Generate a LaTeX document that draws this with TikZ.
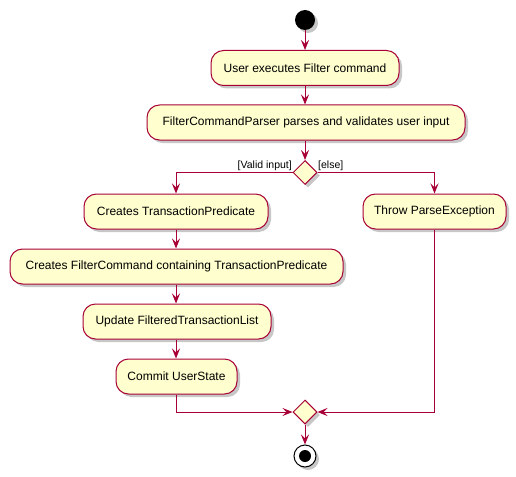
\documentclass[tikz,border=0pt]{standalone}
\usepackage{fontspec}
\setmainfont{Liberation Sans}
\usetikzlibrary{shadows,arrows.meta,shapes.geometric}
\definecolor{pfill}{HTML}{FEFECE}
\definecolor{pline}{HTML}{A80036}
\begin{document}
\begin{tikzpicture}[x=1pt,y=-1pt,
  shad/.style={drop shadow={shadow xshift=3pt,shadow yshift=-3pt,opacity=0.4,fill=black!55}},
  act/.style={draw=pline, fill=pfill, line width=1pt, rounded corners=12.5pt, minimum height=35pt, inner sep=0pt, font=\fontsize{12}{14}\selectfont, shad},
  dec/.style={draw=pline, fill=pfill, line width=1pt, diamond, minimum width=24pt, minimum height=24pt, inner sep=0pt, shad},
  flow/.style={draw=pline, line width=1pt, -{Stealth[length=10pt,width=8pt,inset=4pt]}},
  lbl/.style={font=\fontsize{10.5}{12}\selectfont, inner sep=0pt}
]
\useasboundingbox (0,0) rectangle (516,476);
\node[circle, fill=black, minimum size=20pt, inner sep=0pt, shad] (start) at (305,20) {};
\node[act, minimum width=188pt] (a1) at (305,68) {User executes Filter command};
\node[act, minimum width=318pt] (a2) at (306,122.5) {FilterCommandParser parses and validates user input};
\node[dec] (d1) at (305,172.5) {};
\node[act, minimum width=184pt] (a3) at (176,211.5) {Creates TransactionPredicate};
\node[act, minimum width=143pt] (e1) at (434.5,211.5) {Throw ParseException};
\node[act, minimum width=333pt] (a4) at (176.5,266.5) {Creates FilterCommand containing TransactionPredicate};
\node[act, minimum width=188pt] (a5) at (177,321.5) {Update FilteredTransactionList};
\node[act, minimum width=121pt] (a6) at (176.5,376.5) {Commit UserState};
\node[dec] (d2) at (305,412) {};
\node[circle, draw=black, fill=white, line width=1pt, minimum size=22pt, inner sep=0pt, shad] (end) at (305,456) {};
\node[circle, fill=black, minimum size=12pt, inner sep=0pt] (endin) at (end) {};
\node[lbl, anchor=east] (l1) at (292,166) {[Valid input]};
\node[lbl, anchor=west] (l2) at (318,166) {[else]};
\draw[flow] (start) -- (a1);
\draw[flow] (a1) -- (a1 |- a2.north);
\draw[flow] (a2.south -| d1) -- (d1);
\draw[flow] (d1.west) -| (a3.north);
\draw[flow] (d1.east) -| (e1.north);
\draw[flow] (a3) -- (a3 |- a4.north);
\draw[flow] (a4.south -| a3) -- (a3 |- a5.north);
\draw[flow] (a5.south -| a3) -- (a3 |- a6.north);
\draw[flow] (a6.south -| a3) |- (d2.west);
\draw[flow] (e1.south) |- (d2.east);
\draw[flow] (d2) -- (end);
\end{tikzpicture}
\end{document}
